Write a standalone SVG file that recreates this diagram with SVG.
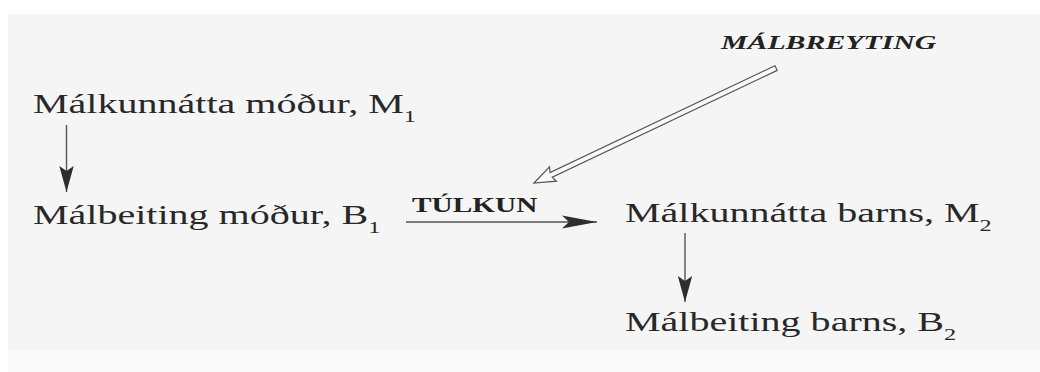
<svg xmlns="http://www.w3.org/2000/svg" width="1040" height="372" viewBox="0 0 1040 372">
  <style>
    .lbl { font-family: "Liberation Serif", "Times New Roman", serif; font-size: 28px; fill: #282828; }
    .sub { font-size: 17px; }
    .tag { font-family: "Liberation Serif", "Times New Roman", serif; font-weight: bold; fill: #222; }
    .edge { stroke: #555; stroke-width: 1.4; fill: none; }
    .hollow { stroke: #555; stroke-width: 1.2; fill: #f9f9f9; stroke-linejoin: miter; }
  </style>
  <defs>
    <marker id="head-v" markerUnits="userSpaceOnUse" markerWidth="30" markerHeight="20" refX="26" refY="8" orient="auto">
      <path d="M26,8 L0,0.8 L5,8 L0,15.2 Z" fill="#2e2e2e"/>
    </marker>
    <marker id="head-h" markerUnits="userSpaceOnUse" markerWidth="40" markerHeight="16" refX="35" refY="7" orient="auto">
      <path d="M35,7 L0,0.5 L7,7 L0,13.5 Z" fill="#2e2e2e"/>
    </marker>
  </defs>

  <!-- paper -->
  <rect x="0" y="0" width="1040" height="372" fill="#ffffff"/>
  <rect x="8" y="14" width="1032" height="336" fill="#f5f5f5"/>
  <rect x="8" y="350" width="1032" height="22" fill="#f9f9f9"/>

  <g id="connectors">
    <line class="edge" x1="66.5" y1="125" x2="66.5" y2="192" marker-end="url(#head-v)"/>
    <line class="edge" x1="406" y1="222" x2="597" y2="222" marker-end="url(#head-h)"/>
    <line class="edge" x1="685" y1="233" x2="685" y2="302" marker-end="url(#head-v)"/>
    <!-- hollow double-line arrow from the change label -->
    <g transform="translate(534,183) rotate(-25.4)">
      <path class="hollow" d="M0,0 L21,-8 L19,-2.6 L268,-2.6 L268,2.6 L19,2.6 L21,8 Z"/>
    </g>
  </g>

  <g id="mother-knowledge">
    <text class="lbl" transform="translate(33,112.5) scale(1.43,1)">Málkunnátta móður, M<tspan class="sub" dy="9">1</tspan></text>
  </g>
  <g id="mother-usage">
    <text class="lbl" transform="translate(33,223.5) scale(1.43,1)">Málbeiting móður, B<tspan class="sub" dy="9">1</tspan></text>
  </g>
  <g id="child-knowledge">
    <text class="lbl" transform="translate(625,222) scale(1.43,1)">Málkunnátta barns, M<tspan class="sub" dy="9">2</tspan></text>
  </g>
  <g id="child-usage">
    <text class="lbl" transform="translate(625,331) scale(1.43,1)">Málbeiting barns, B<tspan class="sub" dy="9">2</tspan></text>
  </g>
  <g id="interpretation">
    <text class="tag" font-size="20.5" transform="translate(412,212) scale(1.43,1)">TÚLKUN</text>
  </g>
  <g id="language-change">
    <text class="tag" font-size="19.5" font-style="italic" transform="translate(721,49) scale(1.53,1)">MÁLBREYTING</text>
  </g>
</svg>
